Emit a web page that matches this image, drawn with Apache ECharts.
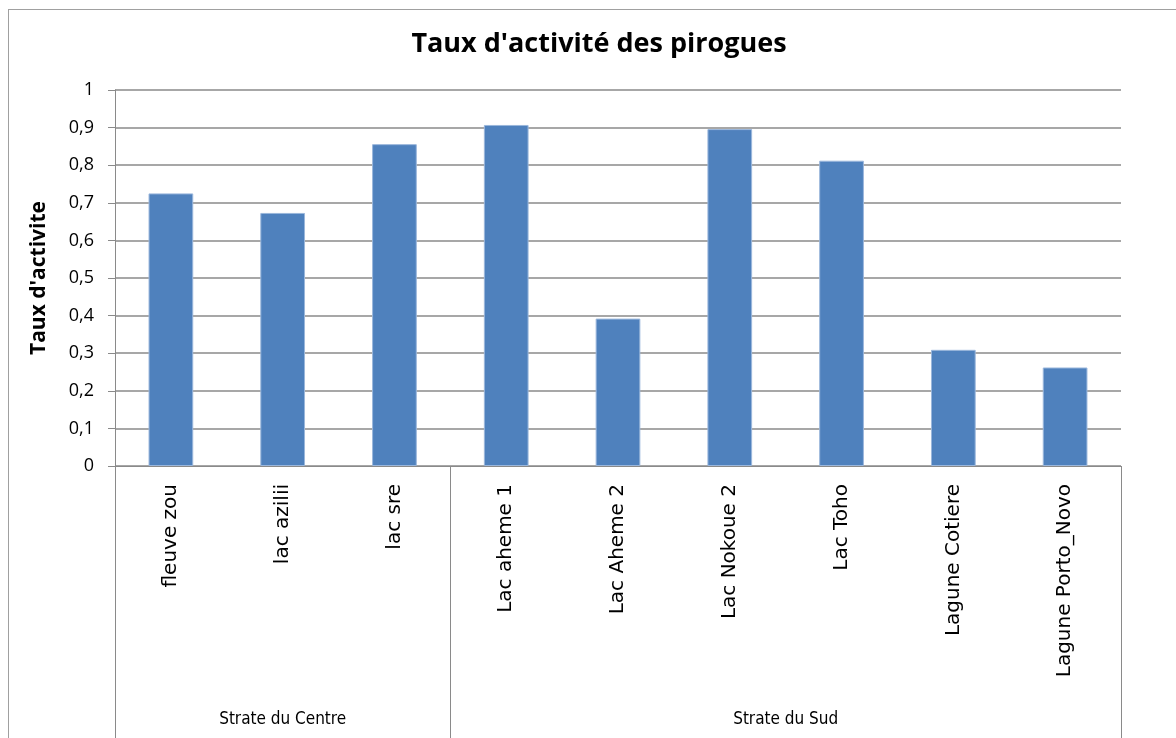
<!DOCTYPE html>
<html>
<head>
<meta charset="utf-8">
<script src="https://cdn.jsdelivr.net/npm/echarts@6/dist/echarts.min.js"></script>
<style>
  html, body { margin: 0; padding: 0; background: #fff; overflow: hidden; }
  #frame {
    position: absolute; left: 8px; top: 9px; width: 1300px; height: 900px;
    border: 1.5px solid #a0a0a0;
  }
  #chart { position: absolute; left: 0; top: 0; width: 1176px; height: 738px; }
</style>
</head>
<body>
<div id="frame"></div>
<div id="chart"></div>
<script>
const categories = [
  'fleuve zou', 'lac azilii', 'lac sre',
  'Lac aheme 1', 'Lac Aheme 2', 'Lac Nokoue 2', 'Lac Toho', 'Lagune Cotiere', 'Lagune Porto_Novo'
]
const tauxActivite = [0.725, 0.673, 0.856, 0.907, 0.392, 0.896, 0.812, 0.309, 0.262]
const groups = ['Strate du Centre', 'Strate du Sud']
const groupSizes = [3, 6]
const yTicks = ['0', '0,1', '0,2', '0,3', '0,4', '0,5', '0,6', '0,7', '0,8', '0,9', '1']

// debut et milieu de chaque strate (en index de categorie)
const groupStarts = []
const groupCenters = []
let acc = 0
groupSizes.forEach((n) => {
  groupStarts.push(acc)
  groupCenters.push(acc + n / 2)
  acc += n
})

const gray = '#8a8a8a'
const chart = echarts.init(document.getElementById('chart'))

const option = {
  animation: false,
  title: {
    text: "Taux d'activité des pirogues",
    left: 594,
    textAlign: 'center',
    top: 26,
    textStyle: {
      fontFamily: '"Open Sans", sans-serif',
      fontWeight: 'bold',
      fontSize: 27,
      color: '#000'
    }
  },
  grid: {
    left: 115,
    right: 55,
    top: 90,
    bottom: 272
  },
  xAxis: [
    {
      type: 'category',
      data: categories,
      axisLine: { show: true, lineStyle: { color: gray, width: 1 } },
      axisTick: {
        show: true,
        length: 280,
        interval: (i) => groupStarts.includes(i),
        lineStyle: { color: gray, width: 1 }
      },
      axisLabel: {
        interval: 0,
        rotate: 90,
        margin: 18,
        fontFamily: '"DejaVu Sans", sans-serif',
        fontSize: 20,
        color: '#000'
      }
    },
    {
      type: 'value',
      min: 0,
      max: categories.length,
      interval: 0.5,
      position: 'bottom',
      axisLine: { show: false },
      axisTick: { show: false },
      splitLine: { show: false },
      axisLabel: {
        margin: 245,
        fontFamily: '"DejaVu Sans Condensed", Lato, sans-serif',
        fontSize: 17,
        color: '#000',
        formatter: (v) => {
          const k = groupCenters.indexOf(v)
          return k >= 0 ? groups[k] : ''
        }
      }
    }
  ],
  yAxis: {
    type: 'value',
    min: 0,
    max: 1,
    interval: 0.1,
    name: "Taux d'activite",
    nameLocation: 'middle',
    nameGap: 65,
    nameTextStyle: {
      fontFamily: '"Open Sans", sans-serif',
      fontWeight: 'bold',
      fontSize: 21,
      color: '#000'
    },
    axisLine: { show: true, lineStyle: { color: gray, width: 1 } },
    axisTick: { show: true, length: 7, lineStyle: { color: gray } },
    axisLabel: {
      margin: 21,
      fontFamily: '"Open Sans", sans-serif',
      fontSize: 18,
      color: '#000',
      formatter: (v) => yTicks[Math.round(v * 10)]
    },
    splitLine: { show: true, lineStyle: { color: gray, width: 1.5 } }
  },
  series: [
    {
      name: "Taux d'activite",
      type: 'bar',
      xAxisIndex: 0,
      data: tauxActivite,
      barCategoryGap: '60%',
      itemStyle: {
        color: '#4F81BD',
        borderColor: '#9bb7dc',
        borderWidth: 1
      }
    }
  ]
}

chart.setOption(option)
</script>
</body>
</html>
